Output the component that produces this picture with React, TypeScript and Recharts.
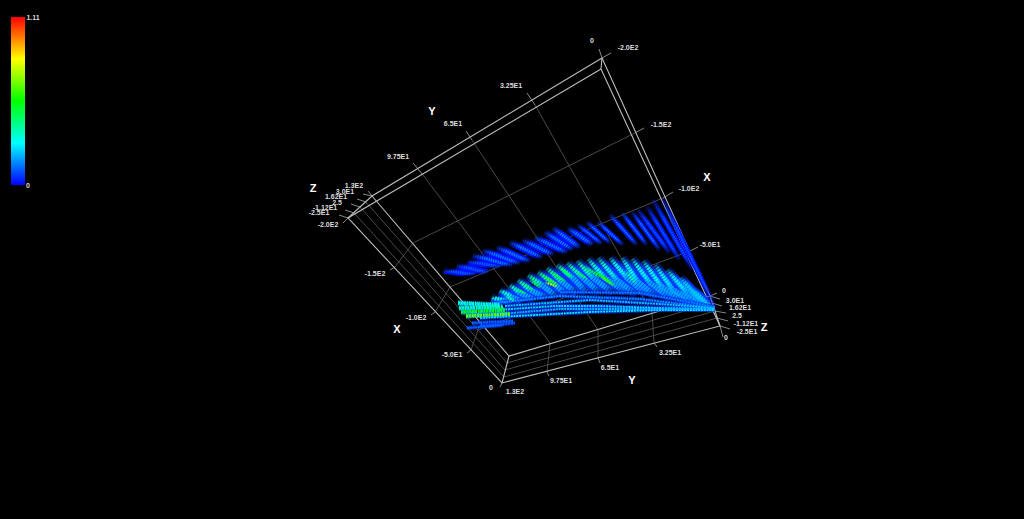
import React from 'react';
import { ComposedChart, Line, Scatter, XAxis, YAxis, ReferenceArea } from 'recharts';

// everything is read in the picture plane of the 3D view (1024 x 519)
type Path = number[];

const colorScaleMax = 1.11;
const colorScaleStops = ['#ff0000', '#ffff00', '#00ff00', '#00ffff', '#0000ff'];
const colorBar = { x1: 11, x2: 25, y1: 17, y2: 185 };

// outer edges of the box
const boxEdges: Path[] = [
  [602, 58, 372, 196, 509, 356, 710, 296, 602, 58],
  [601, 69, 348, 218, 502, 383, 720, 326, 601, 69],
  [602, 58, 601, 69],
  [372, 196, 348, 218],
  [509, 356, 502, 383],
  [710, 296, 720, 326],
];

// tick marks on the axes
const tickMarks: Path[] = [
  [368, 191, 372, 196], [363, 194, 372, 196], [357, 199, 366, 202], [351, 204, 360, 207], [345, 210, 354, 213], [339, 215, 348, 218],
  [348, 218, 343, 223], [413, 163, 423, 175], [466, 131, 472, 140], [527, 93, 535, 105], [599, 49, 602, 58], [602, 58, 611, 53],
  [635, 133, 644, 128], [663, 198, 673, 192], [690, 251, 698, 247], [710, 296, 717, 293], [710, 296, 720, 299], [712, 303, 722, 306],
  [715, 311, 726, 313], [717, 318, 728, 321], [720, 326, 730, 329], [720, 326, 723, 337], [502, 383, 500, 387],
  [547, 372, 549, 376], [598, 358, 600, 363], [654, 343, 657, 347], [395, 267, 390, 270], [435, 312, 431, 315], [471, 350, 467, 353],
];

// grid lines on the three back walls
const gridLines: Path[] = [
  [423, 175, 550, 343, 547, 372],
  [472, 140, 598, 330, 598, 358],
  [535, 105, 652, 313, 654, 343],
  [395, 267, 413, 243, 635, 133],
  [435, 312, 450, 287, 663, 198],
  [471, 350, 478, 330, 690, 251],
  [366, 202, 507, 363, 712, 303],
  [360, 207, 505, 370, 715, 311],
  [354, 213, 504, 377, 717, 318],
];

// upper sheet of the volume: x1, y1, x2, y2, value
const upperStreaks: Path[] = [
  [444, 270, 475, 275, 0.1], [457, 265, 488, 273, 0.1], [468, 261, 500, 267, 0.11], [473, 255, 512, 266, 0.14], [483, 250, 520, 264, 0.15],
  [497, 247, 530, 262, 0.16], [510, 242, 542, 258, 0.16], [523, 240, 553, 255, 0.16], [535, 237, 567, 253, 0.16], [545, 232, 573, 250, 0.14],
  [553, 228, 580, 248, 0.14], [568, 228, 593, 245, 0.14], [578, 225, 602, 244, 0.14], [587, 222, 610, 243, 0.14], [598, 222, 623, 245, 0.14],
  [610, 215, 637, 245, 0.14], [622, 213, 647, 245, 0.14], [632, 212, 660, 250, 0.14], [638, 210, 670, 253, 0.12], [647, 207, 680, 260, 0.12],
  [653, 200, 693, 270, 0.12], [662, 198, 715, 307, 0.1],
];

// main dome, one rib per slice, top to bottom
const domeRibs: Path[] = [
  [693, 290, 710, 307], [680, 278, 703, 303], [667, 270, 687, 293, 707, 305], [655, 265, 673, 290, 700, 305],
  [643, 261, 662, 287, 687, 302], [632, 259, 650, 283, 673, 300], [622, 258, 638, 282, 657, 297], [610, 258, 627, 278, 647, 295],
  [598, 258, 617, 280, 637, 295], [588, 259, 605, 278, 627, 293], [577, 261, 593, 278, 613, 293], [567, 263, 583, 278, 600, 293],
  [557, 265, 573, 278, 587, 293], [547, 268, 562, 282, 577, 293], [538, 272, 553, 283, 567, 295], [528, 275, 542, 285, 557, 297],
  [518, 280, 530, 290, 547, 298], [510, 285, 520, 293, 535, 300], [500, 290, 512, 297, 523, 302], [492, 297, 502, 300, 513, 303],
];
const domeValues = [0.24, 0.24, 0.26, 0.26, 0.28, 0.28, 0.3, 0.32, 0.34, 0.36, 0.38, 0.38, 0.4, 0.42, 0.42, 0.4, 0.38, 0.36, 0.34, 0.34];

// brightest parts of the dome: x1, y1, x2, y2, value
const hotStreaks: Path[] = [
  [543, 276, 558, 285, 0.6], [545, 282, 558, 287, 0.72], [530, 280, 541, 288, 0.5], [592, 270, 612, 283, 0.55], [600, 276, 615, 286, 0.62],
  [575, 270, 588, 280, 0.46], [560, 268, 572, 278, 0.46], [515, 288, 526, 294, 0.46], [625, 270, 636, 284, 0.38], [505, 296, 515, 301, 0.38],
  [552, 272, 566, 282, 0.5], [585, 266, 600, 278, 0.46], [523, 283, 534, 291, 0.48],
];

// thick flat layers at the left end: value, then the path
const leftBands: Path[] = [
  [0.32, 458, 303, 500, 305],
  [0.36, 459, 308, 503, 307],
  [0.54, 461, 312, 505, 310],
  [0.66, 466, 316, 510, 314],
];

// long thin layers under the dome: value, then the path
const longLayers: Path[] = [
  [0.16, 495, 303, 560, 296, 640, 299, 715, 308],
  [0.22, 505, 306, 590, 300, 660, 304, 715, 308],
  [0.24, 497, 310, 555, 306, 600, 306, 660, 308, 715, 309],
  [0.26, 480, 318, 590, 312, 660, 310, 715, 310],
  [0.2, 500, 314, 560, 309, 620, 309, 715, 309],
  [0.14, 560, 292, 640, 293, 715, 307],
  [0.12, 472, 323, 513, 321],
  [0.12, 467, 328, 503, 325],
  [0.1, 480, 326, 515, 323],
];

const axisLabels = [
  { x: 354, y: 185, text: '1.3E2' }, { x: 345, y: 191, text: '3.0E1' }, { x: 336, y: 196, text: '1.62E1' }, { x: 337, y: 202, text: '2.5' },
  { x: 325, y: 207, text: '-1.12E1' }, { x: 319, y: 212, text: '-2.5E1' }, { x: 328, y: 224, text: '-2.0E2' },
  { x: 398, y: 156, text: '9.75E1' }, { x: 453, y: 123, text: '6.5E1' }, { x: 511, y: 85, text: '3.25E1' }, { x: 592, y: 40, text: '0' },
  { x: 628, y: 47, text: '-2.0E2' }, { x: 661, y: 124, text: '-1.5E2' }, { x: 689, y: 188, text: '-1.0E2' }, { x: 710, y: 244, text: '-5.0E1' },
  { x: 724, y: 290, text: '0' }, { x: 735, y: 300, text: '3.0E1' }, { x: 740, y: 307, text: '1.62E1' }, { x: 737, y: 315, text: '2.5' },
  { x: 746, y: 323, text: '-1.12E1' }, { x: 747, y: 331, text: '-2.5E1' }, { x: 726, y: 337, text: '0' },
  { x: 515, y: 391, text: '1.3E2' }, { x: 561, y: 380, text: '9.75E1' }, { x: 610, y: 367, text: '6.5E1' }, { x: 670, y: 352, text: '3.25E1' },
  { x: 491, y: 387, text: '0' }, { x: 452, y: 354, text: '-5.0E1' }, { x: 416, y: 317, text: '-1.0E2' }, { x: 375, y: 273, text: '-1.5E2' },
  { x: 33, y: 17, text: '1.11' }, { x: 28, y: 185, text: '0' },
];
const axisTitles = [
  { x: 313, y: 188, text: 'Z' }, { x: 432, y: 111, text: 'Y' }, { x: 707, y: 177, text: 'X' },
  { x: 764, y: 327, text: 'Z' }, { x: 632, y: 380, text: 'Y' }, { x: 397, y: 329, text: 'X' },
];

const jet = (value: number) => {
  const t = Math.min(1, value / colorScaleMax) * 4;
  const ch = (c: number) => Math.round(255 * Math.max(0, Math.min(1, c)));
  const r = ch(t - 2);
  const g = ch(t < 2 ? t : 4 - t);
  const b = ch(2 - t);
  return `rgb(${r},${g},${b})`;
};

const toPoints = (path: Path) => {
  const points = [];
  for (let i = 0; i + 1 < path.length; i += 2) points.push({ x: path[i], y: path[i + 1] });
  return points;
};

const fadeLevels = [0.02, 0.06, 0.1, 0.14, 0.18, 0.22, 0.26, 0.3, 0.34, 0.38, 0.42, 0.46, 0.5, 0.55, 0.6, 0.72];
const fadeId = (value: number) => {
  let best = 0;
  fadeLevels.forEach((l, i) => { if (Math.abs(l - value) < Math.abs(fadeLevels[best] - value)) best = i; });
  return `url(#fade${best})`;
};

const path = (key: string, p: Path, stroke: string, width: number, dash?: string) => (
  <Line
    key={key}
    data={toPoints(p)}
    dataKey="y"
    type="linear"
    stroke={stroke}
    strokeWidth={width}
    strokeDasharray={dash}
    dot={false}
    legendType="none"
    isAnimationActive={false}
  />
);

const TextMark = (bold: boolean) => (props: any) => (
  <text
    x={props.cx}
    y={props.cy}
    textAnchor="middle"
    dominantBaseline="central"
    fill={bold ? '#ffffff' : '#dcdcdc'}
    fontSize={bold ? 11 : 7}
    fontWeight="bold"
    fontFamily="Liberation Sans, Arial, sans-serif"
  >
    {props.payload.text}
  </text>
);

const App: React.FC = () => {
  return (
    <div style={{ position: 'fixed', left: 0, top: 0, width: 1024, height: 519, background: '#000' }}>
      <ComposedChart width={1024} height={519} margin={{ top: 0, right: 0, bottom: 0, left: 0 }}>
        <defs>
          <linearGradient id="colorbar" x1="0" y1="0" x2="0" y2="1">
            {colorScaleStops.map((c, i) => (
              <stop key={i} offset={`${i * 25}%`} stopColor={c} />
            ))}
          </linearGradient>
          {fadeLevels.map((v, i) => (
            <linearGradient key={i} id={`fade${i}`} x1="0" y1="0" x2="1" y2="1">
              <stop offset="0%" stopColor={jet(v)} stopOpacity={0.15} />
              <stop offset="30%" stopColor={jet(v)} />
              <stop offset="75%" stopColor={jet(v)} />
              <stop offset="100%" stopColor={jet(v)} stopOpacity={0.1} />
            </linearGradient>
          ))}
        </defs>
        <XAxis type="number" dataKey="x" domain={[0, 1024]} hide />
        <YAxis type="number" dataKey="y" domain={[0, 519]} reversed hide />
        <ReferenceArea {...colorBar} fill="url(#colorbar)" fillOpacity={1} stroke="none" />

        {gridLines.map((p, i) => path(`grid${i}`, p, '#5c5c5c', 0.8))}
        {boxEdges.map((p, i) => path(`edge${i}`, p, '#bcbcbc', 1.1))}
        {tickMarks.map((p, i) => path(`tick${i}`, p, '#a8a8a8', 0.8))}

        {upperStreaks.map((s, i) => path(`upOuter${i}`, s.slice(0, 4), fadeId(0.02), i < 12 ? 7 : 5))}
        {upperStreaks.map((s, i) => path(`upInner${i}`, s.slice(0, 4), fadeId(s[4]), i < 12 ? 3 : 2, '1.5 0.8'))}

        {domeRibs.map((p, i) => path(`ribBase${i}`, p, fadeId(0.06), 10))}
        {domeRibs.map((p, i) => path(`ribMid${i}`, p, fadeId(0.18), 5.5, '2 0.7'))}
        {domeRibs.map((p, i) => path(`ribTop${i}`, p.slice(0, 4), fadeId(domeValues[i]), 3.2, '2 0.8'))}

        {longLayers.map((l, i) => path(`layerBase${i}`, l.slice(1), jet(0.06), 4, '1.5 0.6'))}
        {longLayers.map((l, i) => path(`layer${i}`, l.slice(1), jet(l[0]), 1.8, '2 0.8'))}
        {leftBands.map((l, i) => path(`bandBase${i}`, l.slice(1), jet(0.2), 5, '1.5 0.6'))}
        {leftBands.map((l, i) => path(`band${i}`, l.slice(1), jet(l[0]), 3.2, '2 0.8'))}
        {hotStreaks.map((s, i) => path(`hot${i}`, s.slice(0, 4), fadeId(s[4]), 2.6, '2 0.7'))}

        <Scatter data={axisLabels} dataKey="y" shape={TextMark(false)} isAnimationActive={false} legendType="none" />
        <Scatter data={axisTitles} dataKey="y" shape={TextMark(true)} isAnimationActive={false} legendType="none" />
      </ComposedChart>
    </div>
  );
};

export default App;
